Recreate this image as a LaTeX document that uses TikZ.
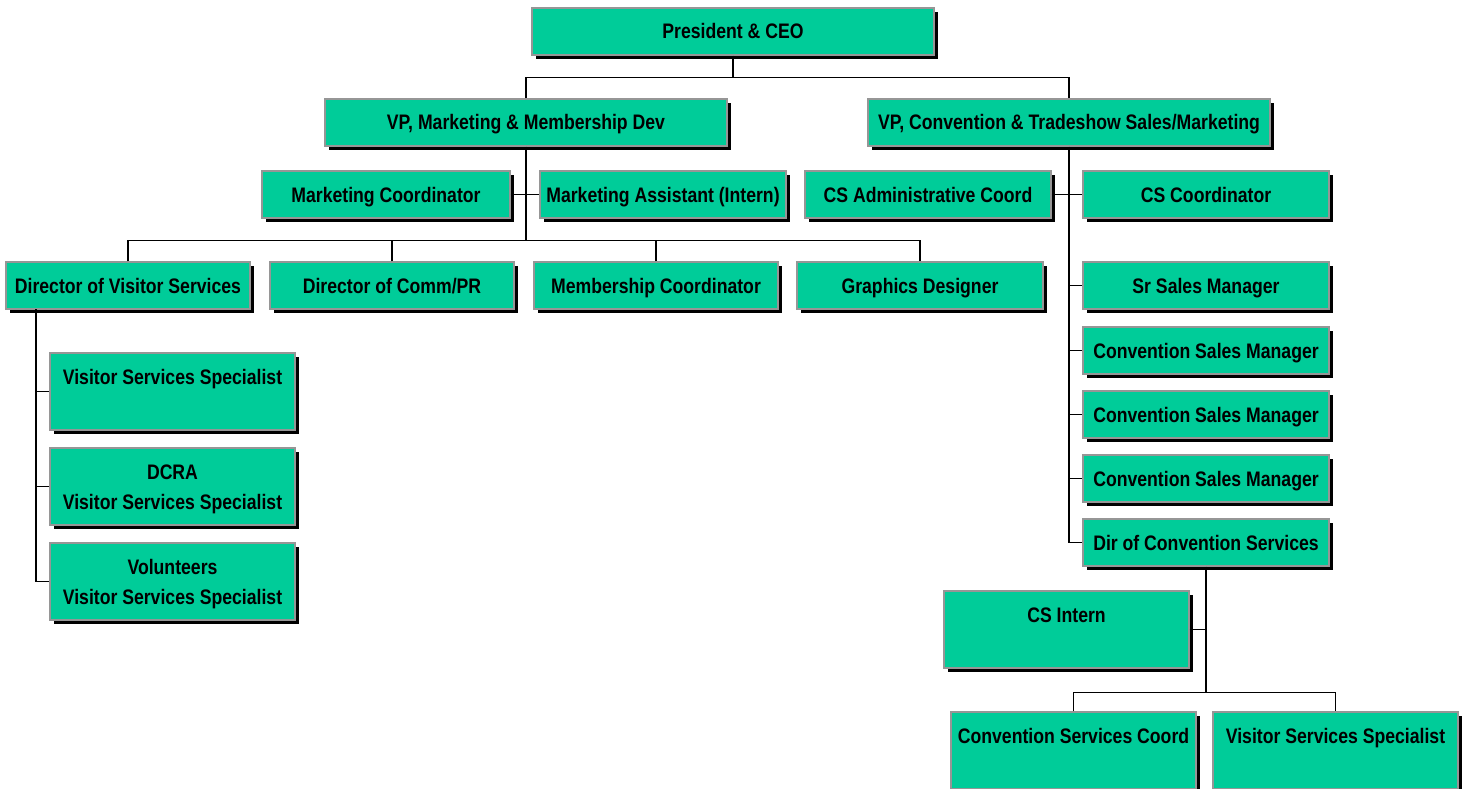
\documentclass[tikz,border=0pt]{standalone}
\usepackage{fontspec}
\setmainfont{Liberation Sans}[FakeStretch=0.84]
\usetikzlibrary{shadows}
\definecolor{boxgreen}{RGB}{0,204,153}
\definecolor{boxgray}{RGB}{150,150,150}
\tikzset{
  box/.style={draw=boxgray, line width=1.3pt, fill=boxgreen, inner sep=0pt,
    align=center, font=\bfseries\fontsize{21}{30}\selectfont,
    general shadow={fill=black, shadow xshift=4pt, shadow yshift=-4pt}},
  wd/.style={minimum width=#1pt},
  short/.style={minimum height=47pt, text height=20pt, text depth=5pt},
  tall/.style={minimum height=77pt, text height=50pt, text depth=5pt},
  conn/.style={draw=black, line width=1.2pt}
}
\begin{document}
\begin{tikzpicture}[x=1pt,y=-1pt]
\useasboundingbox (0,0) rectangle (1466,789);
\fill[white] (0,0) rectangle (1466,789);
% nodes
\node[box,wd=402,short] (ceo) at (733,31.5) {President \& CEO};
\node[box,wd=402,short] (vpm) at (526,122.5) {VP, Marketing \& Membership Dev};
\node[box,wd=402,short] (vpc) at (1069,122.5) {VP, Convention \& Tradeshow Sales/Marketing};
\node[box,wd=248,short] (mc) at (386,194.5) {Marketing Coordinator};
\node[box,wd=246,short] (ma) at (663,194.5) {Marketing Assistant (Intern)};
\node[box,wd=246,short] (csa) at (928,194.5) {CS Administrative Coord};
\node[box,wd=246,short] (csc) at (1206,194.5) {CS Coordinator};
\node[box,wd=244,short] (dvs) at (128,285.5) {Director of Visitor Services};
\node[box,wd=244,short] (dcp) at (392,285.5) {Director of Comm/PR};
\node[box,wd=244,short] (mem) at (656,285.5) {Membership Coordinator};
\node[box,wd=246,short] (gd) at (920,285.5) {Graphics Designer};
\node[box,wd=246,short] (ssm) at (1206,285.5) {Sr Sales Manager};
\node[box,wd=246,short] (csm1) at (1206,350.5) {Convention Sales Manager};
\node[box,wd=246,short] (csm2) at (1206,414.5) {Convention Sales Manager};
\node[box,wd=246,short] (csm3) at (1206,478.5) {Convention Sales Manager};
\node[box,wd=246,short] (dcs) at (1206,542.5) {Dir of Convention Services};
\node[box,wd=245,tall] (vss) at (172.5,391.5) {Visitor Services Specialist\\\mbox{}};
\node[box,wd=245,tall] (dcra) at (172.5,486.5) {DCRA\\Visitor Services Specialist};
\node[box,wd=245,tall] (vol) at (172.5,581.5) {Volunteers\\Visitor Services Specialist};
\node[box,wd=245,tall] (csi) at (1066.5,629.5) {CS Intern\\\mbox{}};
\node[box,wd=245,tall] (csco) at (1073.5,750.5) {Convention Services Coord\\\mbox{}};
\node[box,wd=245,tall] (vss2) at (1335.5,750.5) {Visitor Services Specialist\\\mbox{}};
% connectors
\draw[conn] (ceo.south) -- ++(0,22) coordinate (j1);
\draw[conn] (vpm.north) |- (j1) -| (vpc.north);
\draw[conn] (vpm.south) -- ++(0,94) coordinate (j2);
\draw[conn] (mc.east) -- (ma.west);
\draw[conn] (dvs.north) |- (j2) -| (gd.north);
\draw[conn] (dcp.north) -- (dcp.north |- j2);
\draw[conn] (mem.north) -- (mem.north |- j2);
\coordinate (vt) at (36,309);
\draw[conn] (vt) |- (vol.west);
\draw[conn] (vt |- vss.west) -- (vss.west);
\draw[conn] (vt |- dcra.west) -- (dcra.west);
\draw[conn] (vpc.south) |- (dcs.west);
\draw[conn] (csa.east) -- (csc.west);
\draw[conn] (vpc.south |- ssm.west) -- (ssm.west);
\draw[conn] (vpc.south |- csm1.west) -- (csm1.west);
\draw[conn] (vpc.south |- csm2.west) -- (csm2.west);
\draw[conn] (vpc.south |- csm3.west) -- (csm3.west);
\draw[conn] (dcs.south) -- ++(0,126) coordinate (j3);
\draw[conn] (csi.east) -- (csi.east -| dcs.south);
\draw[conn] (csco.north) |- (j3) -| (vss2.north);
\end{tikzpicture}
\end{document}
